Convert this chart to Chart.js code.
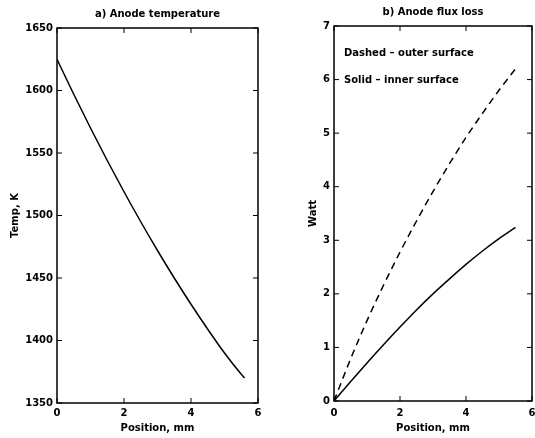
<!DOCTYPE html>
<html>
<head>
<meta charset="utf-8">
<script src="https://cdn.jsdelivr.net/npm/chart.js@4.4.1/dist/chart.umd.min.js"></script>
<style>
  body { margin: 0; background: #fff; }
  #wrap { position: relative; width: 535px; height: 438px; }
  #tempBox { position: absolute; left: 0; top: 0; width: 270px; height: 438px; }
  #fluxBox { position: absolute; left: 270px; top: 0; width: 265px; height: 438px; }
</style>
</head>
<body>
<div id="wrap">
  <div id="tempBox"><canvas id="tempChart"></canvas></div>
  <div id="fluxBox"><canvas id="fluxChart"></canvas></div>
</div>
<script>
// a) anode temperature along the anode
const tempPos = [0, 0.5, 1, 1.5, 2, 2.5, 3, 3.5, 4, 4.5, 5, 5.5, 5.6];
const tempK = [1625, 1597, 1570, 1544, 1519, 1495, 1472, 1450, 1429, 1409, 1390, 1373, 1370];
const tempTicks = [1350, 1400, 1450, 1500, 1550, 1600, 1650];

// b) anode flux loss
const fluxPos = [0, 0.5, 1, 1.5, 2, 2.5, 3, 3.5, 4, 4.5, 5, 5.5];
const outerW = [0, 0.78, 1.5, 2.16, 2.78, 3.36, 3.91, 4.43, 4.92, 5.37, 5.8, 6.2];
const innerW = [0, 0.36, 0.71, 1.05, 1.38, 1.7, 2.0, 2.28, 2.55, 2.8, 3.03, 3.24];
const wattTicks = [0, 1, 2, 3, 4, 5, 6, 7];
const notes = ["Dashed \u2013 outer surface", "Solid \u2013 inner surface"];

const FONT = "'DejaVu Sans', sans-serif";
Chart.defaults.font.family = FONT;
Chart.defaults.font.size = 10;
Chart.defaults.font.weight = "bold";
Chart.defaults.color = "#000";

const toPoints = (xs, ys) => xs.map((x, i) => ({ x: x, y: ys[i] }));

//box around the plot with inward ticks on all four sides
const frame = {
  id: "frame",
  afterDraw(chart) {
    const { ctx, chartArea: a, scales } = chart;
    ctx.save();
    ctx.strokeStyle = "#000";
    ctx.lineWidth = 1;
    ctx.beginPath();
    scales.x.ticks.forEach(t => {
      const px = scales.x.getPixelForValue(t.value);
      ctx.moveTo(px, a.bottom); ctx.lineTo(px, a.bottom - 5);
      ctx.moveTo(px, a.top); ctx.lineTo(px, a.top + 5);
    });
    scales.y.ticks.forEach(t => {
      const py = scales.y.getPixelForValue(t.value);
      ctx.moveTo(a.left, py); ctx.lineTo(a.left + 5, py);
      ctx.moveTo(a.right, py); ctx.lineTo(a.right - 5, py);
    });
    ctx.stroke();
    ctx.lineWidth = 1.5;
    ctx.strokeRect(a.left, a.top, a.right - a.left, a.bottom - a.top);
    ctx.restore();
  }
};

//text notes inside the flux plot
const noteText = {
  id: "noteText",
  afterDraw(chart) {
    const { ctx, chartArea: a } = chart;
    ctx.save();
    ctx.font = "bold 10px " + FONT;
    ctx.fillStyle = "#000";
    ctx.textBaseline = "middle";
    ctx.fillText(notes[0], a.left + 10, a.top + 27);
    ctx.fillText(notes[1], a.left + 10, a.top + 54);
    ctx.restore();
  }
};

function makeChart(id, cfg) {
  return new Chart(document.getElementById(id), {
    type: "line",
    data: { datasets: cfg.datasets },
    plugins: cfg.plugins,
    options: {
      responsive: true,
      maintainAspectRatio: false,
      animation: false,
      layout: { padding: cfg.padding },
      elements: { point: { radius: 0 }, line: { borderWidth: 1.5, cubicInterpolationMode: "monotone" } },
      plugins: {
        legend: { display: false },
        tooltip: { enabled: false },
        title: {
          display: true,
          text: cfg.title,
          fullSize: false,
          font: { size: 10, weight: "bold" },
          padding: cfg.titlePad
        }
      },
      scales: {
        x: {
          type: "linear",
          min: 0, max: 6,
          grid: { display: false, drawTicks: false },
          border: { display: false },
          ticks: { stepSize: 2, padding: cfg.xTickPad, maxRotation: 0 },
          title: { display: true, text: "Position, mm", padding: { top: 0, bottom: 4 } },
          afterFit: s => { s.height = cfg.xHeight; s.paddingLeft = 0; s.paddingRight = 0; }
        },
        y: {
          min: cfg.yMin, max: cfg.yMax,
          grid: { display: false, drawTicks: false },
          border: { display: false },
          afterBuildTicks: s => { s.ticks = cfg.yTicks.map(v => ({ value: v })); },
          ticks: { padding: 4, callback: v => String(v) },
          title: { display: true, text: cfg.yTitle, padding: { top: cfg.yTitlePad, bottom: 0 } },
          afterFit: s => { s.width = cfg.yWidth; }
        }
      }
    }
  });
}

makeChart("tempChart", {
  title: "a) Anode temperature",
  titlePad: { top: 8, bottom: 8 },
  padding: { top: 0, right: 12, left: 0, bottom: 0 },
  datasets: [{ data: toPoints(tempPos, tempK), borderColor: "#000" }],
  plugins: [frame],
  xHeight: 35, xTickPad: 4,
  yMin: 1350, yMax: 1650, yTicks: tempTicks,
  yTitle: "Temp, K", yTitlePad: 9.5, yWidth: 57
});

makeChart("fluxChart", {
  title: "b) Anode flux loss",
  titlePad: { top: 6, bottom: 8 },
  padding: { top: 0, right: 3, left: 0, bottom: 0 },
  datasets: [
    { data: toPoints(fluxPos, outerW), borderColor: "#000", borderDash: [7, 5] },
    { data: toPoints(fluxPos, innerW), borderColor: "#000" }
  ],
  plugins: [frame, noteText],
  xHeight: 37, xTickPad: 6,
  yMin: 0, yMax: 7, yTicks: wattTicks,
  yTitle: "Watt", yTitlePad: 37.3, yWidth: 64
});
</script>
</body>
</html>
